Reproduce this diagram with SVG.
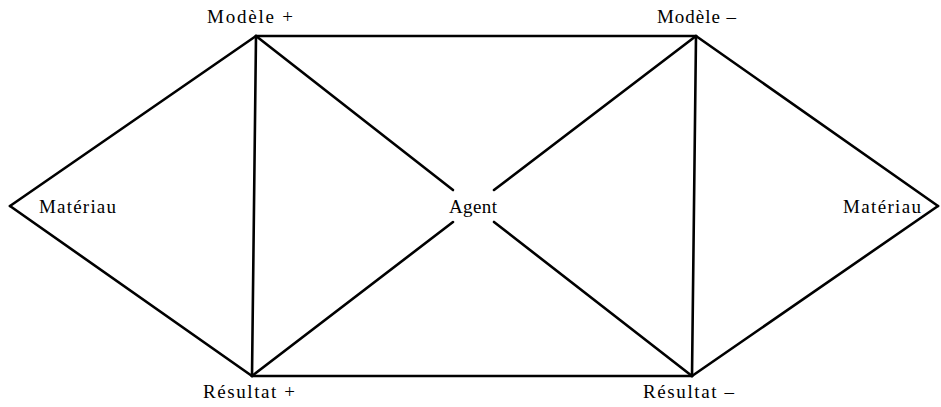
<svg xmlns="http://www.w3.org/2000/svg" width="941" height="407" viewBox="0 0 941 407">
<style>
.lbl{font-family:"Liberation Serif","Times New Roman",serif;font-size:19px;fill:#000}
.edge{stroke:#000;stroke-width:2.6;fill:none;stroke-linecap:round;stroke-linejoin:round}
</style>
<rect width="941" height="407" fill="#fff"/>
<g id="connectors" class="edge">
<line x1="256" y1="36" x2="696" y2="36"/>
<line x1="252" y1="376" x2="692" y2="376"/>
<line x1="256" y1="36" x2="252" y2="376"/>
<line x1="696" y1="36" x2="692" y2="376"/>
<line x1="10" y1="206" x2="256" y2="36"/>
<line x1="10" y1="206" x2="252" y2="376"/>
<line x1="938" y1="206" x2="696" y2="36"/>
<line x1="938" y1="206" x2="692" y2="376"/>
<line x1="256" y1="36" x2="453" y2="190"/>
<line x1="696" y1="36" x2="494" y2="190"/>
<line x1="252" y1="376" x2="453" y2="222"/>
<line x1="692" y1="376" x2="494" y2="222"/>
</g>
<g id="modele-plus"><text class="lbl" x="207" y="23" textLength="86" lengthAdjust="spacing">Modèle  +</text></g>
<g id="modele-moins"><text class="lbl" x="657" y="23" textLength="79" lengthAdjust="spacing">Modèle  –</text></g>
<g id="materiau-gauche"><text class="lbl" x="39" y="213" textLength="77" lengthAdjust="spacing">Matériau</text></g>
<g id="agent"><text class="lbl" x="449" y="213" textLength="48" lengthAdjust="spacing">Agent</text></g>
<g id="materiau-droite"><text class="lbl" x="843" y="213" textLength="78" lengthAdjust="spacing">Matériau</text></g>
<g id="resultat-plus"><text class="lbl" x="203" y="398" textLength="92" lengthAdjust="spacing">Résultat  +</text></g>
<g id="resultat-moins"><text class="lbl" x="643" y="398" textLength="91" lengthAdjust="spacing">Résultat  –</text></g>
</svg>
